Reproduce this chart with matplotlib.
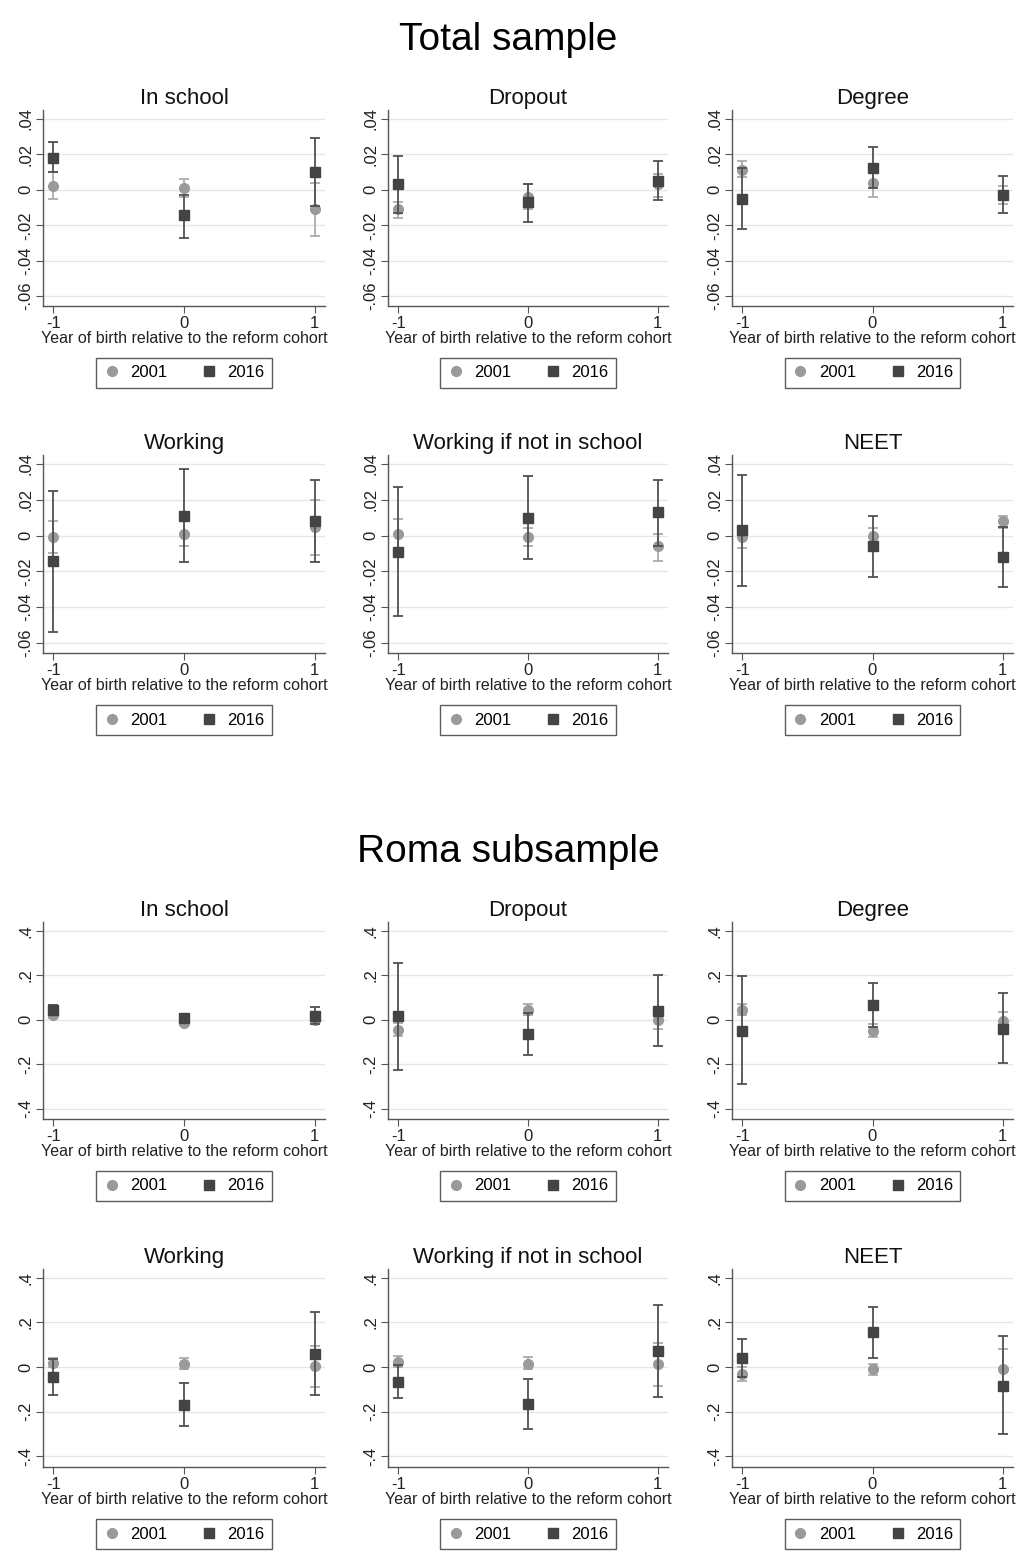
import matplotlib
matplotlib.use('Agg')
import matplotlib.pyplot as plt
from matplotlib.lines import Line2D
from matplotlib.ticker import FuncFormatter

plt.rcParams['font.family'] = ['Liberation Sans', 'DejaVu Sans']

# cohort positions and labels
cohorts = [-1, 0, 1]
outcomes = ['In school', 'Dropout', 'Degree',
            'Working', 'Working if not in school', 'NEET']
years = ['2001', '2016']

# Total sample: point estimates and 95% CI, one row per outcome
total_est_2001 = [[0.002, 0.001, -0.011], [-0.011, -0.004, 0.003], [0.011, 0.004, -0.003],
                  [-0.001, 0.001, 0.005], [0.001, -0.001, -0.006], [-0.001, 0.000, 0.008]]
total_lo_2001 = [[-0.005, -0.004, -0.026], [-0.016, -0.011, -0.004], [0.007, -0.004, -0.008],
                 [-0.010, -0.006, -0.011], [-0.007, -0.006, -0.014], [-0.007, -0.004, 0.004]]
total_hi_2001 = [[0.010, 0.006, 0.004], [-0.007, 0.003, 0.009], [0.016, 0.012, 0.002],
                 [0.008, 0.008, 0.020], [0.009, 0.004, 0.001], [0.004, 0.004, 0.011]]
total_est_2016 = [[0.018, -0.014, 0.010], [0.003, -0.007, 0.005], [-0.005, 0.012, -0.003],
                  [-0.014, 0.011, 0.008], [-0.009, 0.010, 0.013], [0.003, -0.006, -0.012]]
total_lo_2016 = [[0.010, -0.027, -0.009], [-0.013, -0.018, -0.006], [-0.022, 0.001, -0.013],
                 [-0.054, -0.015, -0.015], [-0.045, -0.013, -0.006], [-0.028, -0.023, -0.029]]
total_hi_2016 = [[0.027, -0.003, 0.029], [0.019, 0.003, 0.016], [0.012, 0.024, 0.008],
                 [0.025, 0.037, 0.031], [0.027, 0.033, 0.031], [0.034, 0.011, 0.005]]

# Roma subsample
roma_est_2001 = [[0.020, -0.015, 0.000], [-0.045, 0.045, 0.000], [0.045, -0.050, -0.005],
                 [0.020, 0.015, 0.005], [0.025, 0.015, 0.015], [-0.030, -0.010, -0.010]]
roma_lo_2001 = [[0.005, -0.025, -0.020], [-0.075, 0.020, -0.040], [0.020, -0.080, -0.040],
                [0.000, -0.010, -0.090], [0.000, -0.010, -0.085], [-0.060, -0.035, -0.100]]
roma_hi_2001 = [[0.035, -0.005, 0.020], [-0.015, 0.070, 0.040], [0.070, -0.020, 0.035],
                [0.040, 0.040, 0.095], [0.050, 0.045, 0.110], [0.000, 0.015, 0.080]]
roma_est_2016 = [[0.045, 0.005, 0.015], [0.015, -0.065, 0.040], [-0.050, 0.065, -0.040],
                 [-0.045, -0.170, 0.060], [-0.065, -0.165, 0.070], [0.040, 0.155, -0.085]]
roma_lo_2016 = [[0.025, -0.010, -0.020], [-0.225, -0.160, -0.120], [-0.290, -0.035, -0.195],
                [-0.125, -0.265, -0.125], [-0.140, -0.275, -0.135], [-0.045, 0.040, -0.300]]
roma_hi_2016 = [[0.065, 0.020, 0.055], [0.255, 0.030, 0.200], [0.195, 0.165, 0.120],
                [0.035, -0.070, 0.245], [0.010, -0.055, 0.280], [0.125, 0.270, 0.140]]

total_ticks = [-0.06, -0.04, -0.02, 0, 0.02, 0.04]
roma_ticks = [-0.4, -0.2, 0, 0.2, 0.4]

W, H = 1017, 1551
COL_PX = [(43, 325), (388, 668), (732, 1013)]
ROW_PX = [(110, 306), (455, 653), (922, 1119), (1269, 1467)]

C2001 = '#9a9a9a'
E2001 = '#ababab'
C2016 = '#444444'
E2016 = '#505050'


def stata_fmt(v, pos):
    if abs(v) < 1e-9:
        return '0'
    s = '%g' % round(v, 4)
    return s.replace('0.', '.')


def draw_panel(fig, row, col, title, ests, los, his, ticks, ylim):
    left, right = COL_PX[col]
    top, bottom = ROW_PX[row]
    ax = fig.add_axes([left / W, 1 - bottom / H, (right - left) / W, (bottom - top) / H])

    for i, (est, lo, hi) in enumerate(zip(ests, los, his)):
        err = [[e - l for e, l in zip(est, lo)], [h - e for e, h in zip(est, hi)]]
        if i == 0:
            ax.errorbar(cohorts, est, yerr=err, fmt='o', color=C2001, ms=7,
                        ecolor=E2001, elinewidth=1.3, capsize=3.5, capthick=1.3, zorder=3)
        else:
            ax.errorbar(cohorts, est, yerr=err, fmt='s', color=C2016, ms=7.5,
                        ecolor=E2016, elinewidth=1.3, capsize=3.5, capthick=1.3, zorder=4)

    ax.set_xlim(-1.08, 1.08)
    ax.set_ylim(*ylim)
    ax.set_xticks(cohorts)
    ax.set_xticklabels(['-1', '0', '1'])
    ax.set_yticks(ticks)
    ax.yaxis.set_major_formatter(FuncFormatter(stata_fmt))
    for lab in ax.get_yticklabels():
        lab.set_rotation(90)
        lab.set_va('center')
    ax.grid(axis='y', color='#e6e6e6', lw=1.0, zorder=0)
    ax.set_axisbelow(True)
    for s in ['top', 'right']:
        ax.spines[s].set_visible(False)
    for s in ['left', 'bottom']:
        ax.spines[s].set_color('#555555')
        ax.spines[s].set_linewidth(1.0)
    ax.tick_params(colors='#555555', labelcolor='#222222', labelsize=12, length=5, pad=2)
    ax.set_title(title, fontsize=16, pad=4, color='#111111')
    ax.set_xlabel('Year of birth relative to the reform cohort', fontsize=11.5,
                  color='#222222', labelpad=0)

    handles = [Line2D([], [], marker='o', ls='none', color=C2001, ms=7, label=years[0]),
               Line2D([], [], marker='s', ls='none', color=C2016, ms=7, label=years[1])]
    leg = ax.legend(handles=handles, loc='center', bbox_to_anchor=(0.5, -0.34), ncol=2,
                    frameon=True, fancybox=False, edgecolor='#333333', fontsize=12,
                    handlelength=1.0, handletextpad=0.6, columnspacing=2.0, borderpad=0.45)
    leg.get_frame().set_linewidth(1.0)


def main():
    fig = plt.figure(figsize=(W / 100, H / 100), dpi=100)
    fig.text(0.5, 1 - 40 / H, 'Total sample', ha='center', va='center', fontsize=28)
    fig.text(0.5, 1 - 852 / H, 'Roma subsample', ha='center', va='center', fontsize=28)

    samples = [
        (0, total_ticks, (-0.0656, 0.0450),
         [(total_est_2001, total_lo_2001, total_hi_2001), (total_est_2016, total_lo_2016, total_hi_2016)]),
        (2, roma_ticks, (-0.447, 0.439),
         [(roma_est_2001, roma_lo_2001, roma_hi_2001), (roma_est_2016, roma_lo_2016, roma_hi_2016)]),
    ]
    for row0, ticks, ylim, series in samples:
        for k, title in enumerate(outcomes):
            row = row0 + k // 3
            col = k % 3
            ests = [series[0][0][k], series[1][0][k]]
            los = [series[0][1][k], series[1][1][k]]
            his = [series[0][2][k], series[1][2][k]]
            draw_panel(fig, row, col, title, ests, los, his, ticks, ylim)

    fig.savefig('out.png', dpi=100, facecolor='white')


if __name__ == '__main__':
    main()
